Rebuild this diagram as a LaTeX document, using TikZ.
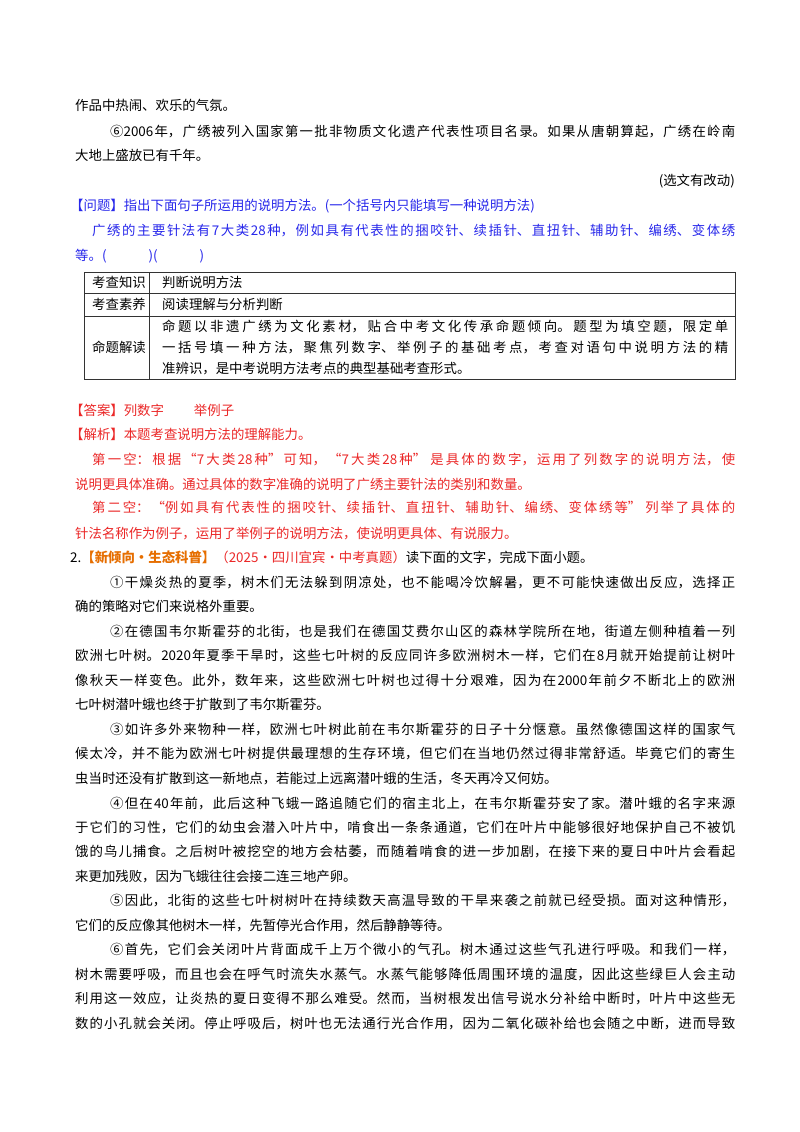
\documentclass[tikz,border=0pt]{standalone}
\usepackage{fontspec}
\newfontfamily\cjk{Noto Sans CJK SC}
\XeTeXlinebreaklocale "zh"
\XeTeXlinebreakskip=0pt plus 3pt minus 0.3pt
\definecolor{qblue}{RGB}{40,40,235}
\definecolor{ared}{RGB}{235,40,40}
\definecolor{tagorange}{RGB}{230,110,0}
\tikzset{
  txt/.style={anchor=base west, inner sep=0pt, font=\cjk\fontsize{13.4}{16}\selectfont},
  ln/.style={txt, text width=#1pt, align=justify,
    execute at begin node={\parfillskip=0pt}},
  tbl/.style={draw=black!80, line width=0.8pt}
}
\begin{document}
\begin{tikzpicture}[x=1pt,y=-1pt]
  \useasboundingbox[fill=white] (0,0) rectangle (800,1132);
  % tail of the previous text
  \node[txt] (p1) at (75,110) {作品中热闹、欢乐的气氛。};
  \node[ln=625] (p2) at (110,136) {⑥2006年，广绣被列入国家第一批非物质文化遗产代表性项目名录。如果从唐朝算起，广绣在岭南};
  \node[txt] (p3) at (75,160) {大地上盛放已有千年。};
  \node[txt, anchor=base east] (src) at (735,185) {(选文有改动)};

  % question
  \node[txt, qblue] (q1) at (70,210) {【问题】指出下面句子所运用的说明方法。(一个括号内只能填写一种说明方法)};
  \node[ln=643, qblue] (q2) at (92,235) {广绣的主要针法有7大类28种，例如具有代表性的捆咬针、续插针、直扭针、辅助针、编绣、变体绣};
  \node[txt, qblue] (q3) at (75,260) {等。(\hspace{42pt})(\hspace{42pt})};

  % table
  \draw[tbl] (84,272) rectangle (735,379);
  \draw[tbl] (84,293) -- (735,293);
  \draw[tbl] (84,316) -- (735,316);
  \draw[tbl] (149,272) -- (149,379);
  \node[txt] (k1) at (92,287) {考查知识};
  \node[txt] (v1) at (162,287) {判断说明方法};
  \node[txt] (k2) at (92,309) {考查素养};
  \node[txt] (v2) at (162,309) {阅读理解与分析判断};
  \node[txt] (k3) at (92,352) {命题解读};
  \node[ln=566] (v3a) at (162,331) {命题以非遗广绣为文化素材，贴合中考文化传承命题倾向。题型为填空题，限定单};
  \node[ln=566] (v3b) at (162,352) {一括号填一种方法，聚焦列数字、举例子的基础考点，考查对语句中说明方法的精};
  \node[txt] (v3c) at (162,373) {准辨识，是中考说明方法考点的典型基础考查形式。};

  % answer
  \node[txt, ared] (a1) at (70,415) {【答案】列数字\hspace{30pt}举例子};
  \node[txt, ared] (a2) at (70,439) {【解析】本题考查说明方法的理解能力。};
  \node[ln=643, ared] (a3) at (92,464) {第一空：根据“7大类28种”可知，“7大类28种” 是具体的数字，运用了列数字的说明方法，使};
  \node[txt, ared] (a4) at (75,489) {说明更具体准确。通过具体的数字准确的说明了广绣主要针法的类别和数量。};
  \node[ln=643, ared] (a5) at (92,512) {第二空：“例如具有代表性的捆咬针、续插针、直扭针、辅助针、编绣、变体绣等” 列举了具体的};
  \node[txt, ared] (a6) at (75,538) {针法名称作为例子，运用了举例子的说明方法，使说明更具体、有说服力。};

  % next question
  \node[txt] (t2) at (70,562) {2.{\color{tagorange}\bfseries【新倾向·生态科普】}{\color{ared}（2025·四川宜宾·中考真题）}读下面的文字，完成下面小题。};
  \node[ln=625] (b1) at (110,587) {①干燥炎热的夏季，树木们无法躲到阴凉处，也不能喝冷饮解暑，更不可能快速做出反应，选择正};
  \node[txt] (b2) at (75,611) {确的策略对它们来说格外重要。};
  \node[ln=625] (b3) at (110,636) {②在德国韦尔斯霍芬的北街，也是我们在德国艾费尔山区的森林学院所在地，街道左侧种植着一列};
  \node[ln=660] (b4) at (75,660) {欧洲七叶树。2020年夏季干旱时，这些七叶树的反应同许多欧洲树木一样，它们在8月就开始提前让树叶};
  \node[ln=660] (b5) at (75,685) {像秋天一样变色。此外，数年来，这些欧洲七叶树也过得十分艰难，因为在2000年前夕不断北上的欧洲};
  \node[txt] (b6) at (75,709) {七叶树潜叶蛾也终于扩散到了韦尔斯霍芬。};
  \node[ln=625] (b7) at (110,734) {③如许多外来物种一样，欧洲七叶树此前在韦尔斯霍芬的日子十分惬意。虽然像德国这样的国家气};
  \node[ln=660] (b8) at (75,758) {候太冷，并不能为欧洲七叶树提供最理想的生存环境，但它们在当地仍然过得非常舒适。毕竟它们的寄生};
  \node[txt] (b9) at (75,783) {虫当时还没有扩散到这一新地点，若能过上远离潜叶蛾的生活，冬天再冷又何妨。};
  \node[ln=625] (b10) at (110,808) {④但在40年前，此后这种飞蛾一路追随它们的宿主北上，在韦尔斯霍芬安了家。潜叶蛾的名字来源};
  \node[ln=660] (b11) at (75,832) {于它们的习性，它们的幼虫会潜入叶片中，啃食出一条条通道，它们在叶片中能够很好地保护自己不被饥};
  \node[ln=660] (b12) at (75,856) {饿的鸟儿捕食。之后树叶被挖空的地方会枯萎，而随着啃食的进一步加剧，在接下来的夏日中叶片会看起};
  \node[txt] (b13) at (75,881) {来更加残败，因为飞蛾往往会接二连三地产卵。};
  \node[ln=625] (b14) at (110,905) {⑤因此，北街的这些七叶树树叶在持续数天高温导致的干旱来袭之前就已经受损。面对这种情形，};
  \node[txt] (b15) at (75,930) {它们的反应像其他树木一样，先暂停光合作用，然后静静等待。};
  \node[ln=625] (b16) at (110,954) {⑥首先，它们会关闭叶片背面成千上万个微小的气孔。树木通过这些气孔进行呼吸。和我们一样，};
  \node[ln=660] (b17) at (75,979) {树木需要呼吸，而且也会在呼气时流失水蒸气。水蒸气能够降低周围环境的温度，因此这些绿巨人会主动};
  \node[ln=660] (b18) at (75,1003) {利用这一效应，让炎热的夏日变得不那么难受。然而，当树根发出信号说水分补给中断时，叶片中这些无};
  \node[ln=660] (b19) at (75,1028) {数的小孔就会关闭。停止呼吸后，树叶也无法通行光合作用，因为二氧化碳补给也会随之中断，进而导致};
\end{tikzpicture}
\end{document}
